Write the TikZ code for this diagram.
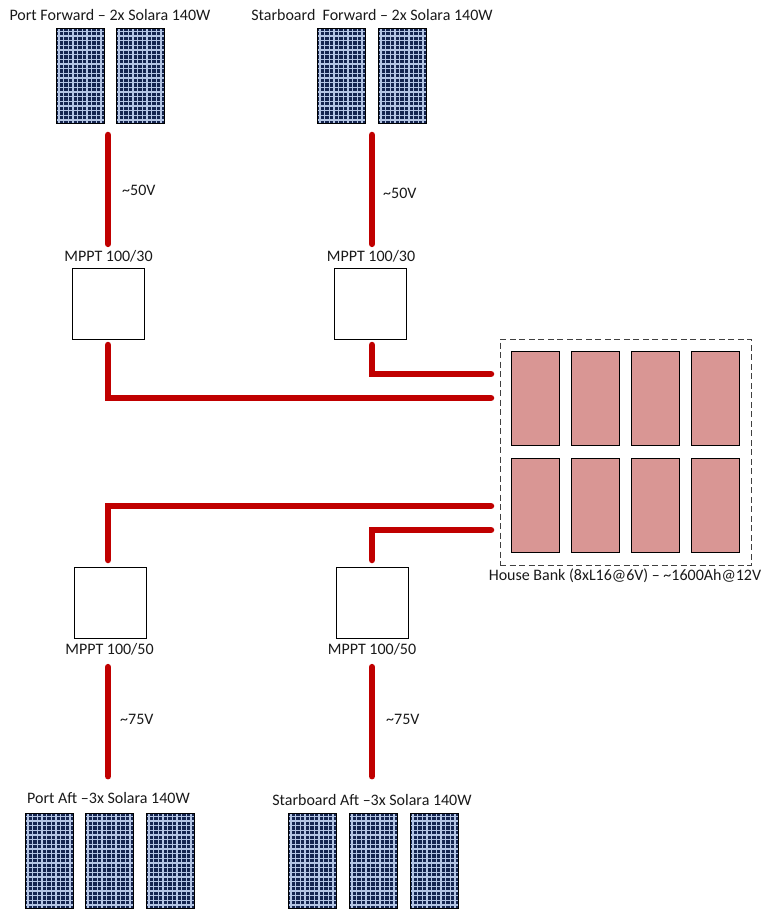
\documentclass[tikz,border=0pt]{standalone}
\usepackage{fontspec}
\setmainfont{Carlito}
\usetikzlibrary{positioning}
\definecolor{pvnavy}{HTML}{14244F}
\definecolor{pvgrid}{HTML}{B4C5E4}
\definecolor{wirered}{HTML}{C00000}
\definecolor{cellrose}{HTML}{D99694}
\tikzset{
    panel/.style={draw=black, fill=pvnavy, minimum width=48, minimum height=95, inner sep=0, outer sep=0,
        path picture={
            \foreach \i in {0,...,9}
                \draw[pvgrid, line width=1.2] ([xshift=\i*4.67+3]path picture bounding box.south west) -- ([xshift=\i*4.67+3]path picture bounding box.north west);
            \foreach \i in {0,...,19}
                \draw[pvgrid, line width=1.2] ([yshift=\i*4.67+3]path picture bounding box.south west) -- ([yshift=\i*4.67+3]path picture bounding box.south east);
        }},
    mppt/.style={draw=black, fill=white, minimum width=72, minimum height=71, inner sep=0, outer sep=0},
    cell/.style={draw=black, fill=cellrose, minimum width=48, minimum height=94, inner sep=0, outer sep=0},
    wire/.style={wirered, line width=6.5, line cap=round, line join=miter},
    lbl/.style={font=\fontsize{16}{18}\selectfont, inner sep=0, text=black!90}
}
\begin{document}
\begin{tikzpicture}[x=1pt, y=-1pt]
    \useasboundingbox (0,0) rectangle (770,909);

    % forward panels
    \foreach \n/\x in {pfa/80, pfb/140, sfa/341, sfb/402}
        \node[panel] (\n) at (\x,75.5) {};
    \node[lbl] (pftext) at (110,15) {Port Forward -- 2x Solara 140W};
    \node[lbl] (sftext) at (372,15) {Starboard\ \ Forward -- 2x Solara 140W};

    % aft panels
    \foreach \n/\x in {paa/49, pab/109, pac/170, saa/312, sab/373, sac/434}
        \node[panel] (\n) at (\x,860.5) {};
    \node[lbl] (patext) at (108.5,798) {Port Aft --3x Solara 140W};
    \node[lbl] (satext) at (372,800) {Starboard Aft --3x Solara 140W};

    % charge controllers
    \node[mppt] (mppta) at (108,303.5) {};
    \node[mppt] (mpptb) at (370,303.5) {};
    \node[mppt] (mpptc) at (110,602.5) {};
    \node[mppt] (mpptd) at (372,602.5) {};
    \node[lbl] (mpptatext) at (108.5,256) {MPPT 100/30};
    \node[lbl] (mpptbtext) at (371,256) {MPPT 100/30};
    \node[lbl] (mpptctext) at (109.5,649) {MPPT 100/50};
    \node[lbl] (mpptdtext) at (372,649) {MPPT 100/50};

    % house bank
    \node[draw=black!75, dash pattern=on 6pt off 3.5pt, line width=0.9, minimum width=251, minimum height=226, inner sep=0, outer sep=0] (bank) at (625.5,452) {};
    \foreach \n/\x in {a/535, b/595, c/655, d/715}
    {
        \node[cell] (top\n) at (\x,398) {};
        \node[cell] (bot\n) at (\x,505) {};
    }
    \node[lbl] (banktext) at (625,576) {House Bank (8xL16@6V) -- \textasciitilde 1600Ah@12V};

    % panel strings down to the controllers
    \draw[wire] ([xshift=4pt,yshift=-12pt]pfa.south east) -- ([xshift=-0.5pt,yshift=6pt]mpptatext.north);
    \draw[wire] ([xshift=7pt,yshift=-12pt]sfa.south east) -- ([xshift=1pt,yshift=6pt]mpptbtext.north);
    \draw[wire] ([xshift=-1.5pt,yshift=-12pt]mpptctext.south) -- ([xshift=-0.5pt,yshift=16pt]patext.north);
    \draw[wire] ([yshift=-12pt]mpptdtext.south) -- ([yshift=18pt]satext.north);

    % controller outputs into the bank
    \draw[wire] ([yshift=-6pt]mppta.south) |- ([xshift=-9pt,yshift=54pt]bank.west);
    \draw[wire] ([xshift=2pt,yshift=-6pt]mpptb.south) |- ([xshift=-9pt,yshift=78pt]bank.west);
    \draw[wire] ([xshift=-2pt,yshift=7pt]mpptc.north) |- ([xshift=-9pt,yshift=-54pt]bank.west);
    \draw[wire] ([yshift=7pt]mpptd.north) |- ([xshift=-9pt,yshift=-78pt]bank.west);

    % voltages
    \node[lbl, anchor=west] (va) at (122,190) {\textasciitilde 50V};
    \node[lbl, anchor=west] (vb) at (383,193) {\textasciitilde 50V};
    \node[lbl, anchor=west] (vc) at (120,719) {\textasciitilde 75V};
    \node[lbl, anchor=west] (vd) at (386,719) {\textasciitilde 75V};
\end{tikzpicture}
\end{document}
